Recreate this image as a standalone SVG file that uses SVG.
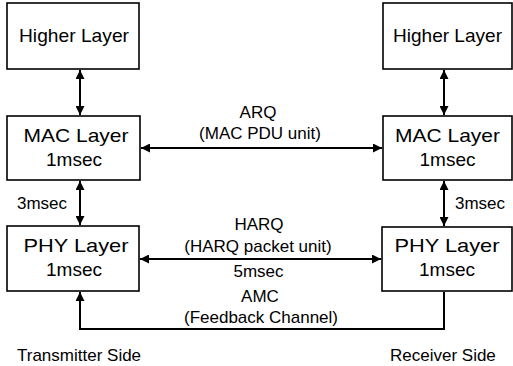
<svg xmlns="http://www.w3.org/2000/svg" width="513" height="366" viewBox="0 0 513 366">
  <style>
    .box { fill: #ffffff; stroke: #000000; stroke-width: 1.6; }
    .lbl { font-family: "Liberation Sans", Arial, sans-serif; font-size: 19px; fill: #000; text-anchor: middle; }
    .txt { font-family: "Liberation Sans", Arial, sans-serif; font-size: 17px; fill: #000; text-anchor: middle; }
    .side { font-family: "Liberation Sans", Arial, sans-serif; font-size: 17px; fill: #000; }
    .conn { fill: none; stroke: #000000; stroke-width: 2; }
  </style>
  <defs>
    <marker id="ah" viewBox="0 0 10 10" refX="10" refY="5" markerWidth="10" markerHeight="9" markerUnits="userSpaceOnUse" orient="auto-start-reverse">
      <path d="M0,0 L10,5 L0,10 z" fill="#000"/>
    </marker>
  </defs>
  <rect width="513" height="366" fill="#ffffff"/>

  <g id="tx-higher">
    <rect class="box" x="7" y="3" width="132" height="66"/>
    <text class="lbl" x="74" y="42" textLength="110" lengthAdjust="spacingAndGlyphs">Higher Layer</text>
  </g>
  <g id="tx-mac">
    <rect class="box" x="7" y="116" width="133" height="64"/>
    <text class="lbl" x="76" y="142" textLength="105" lengthAdjust="spacingAndGlyphs">MAC Layer</text>
    <text class="lbl" x="74" y="166">1msec</text>
  </g>
  <g id="tx-phy">
    <rect class="box" x="7" y="226" width="132" height="65"/>
    <text class="lbl" x="76" y="252" textLength="105" lengthAdjust="spacingAndGlyphs">PHY Layer</text>
    <text class="lbl" x="74" y="276">1msec</text>
  </g>
  <g id="rx-higher">
    <rect class="box" x="383" y="3" width="129" height="66"/>
    <text class="lbl" x="447.5" y="42" textLength="109" lengthAdjust="spacingAndGlyphs">Higher Layer</text>
  </g>
  <g id="rx-mac">
    <rect class="box" x="383" y="116" width="129" height="64"/>
    <text class="lbl" x="447.5" y="142" textLength="105" lengthAdjust="spacingAndGlyphs">MAC Layer</text>
    <text class="lbl" x="447.5" y="166">1msec</text>
  </g>
  <g id="rx-phy">
    <rect class="box" x="382" y="227" width="130" height="64"/>
    <text class="lbl" x="447" y="252" textLength="105" lengthAdjust="spacingAndGlyphs">PHY Layer</text>
    <text class="lbl" x="447" y="276">1msec</text>
  </g>

  <g id="connectors">
    <line class="conn" x1="80" y1="70" x2="80" y2="115" marker-start="url(#ah)" marker-end="url(#ah)"/>
    <line class="conn" x1="80" y1="181" x2="80" y2="225" marker-start="url(#ah)" marker-end="url(#ah)"/>
    <line class="conn" x1="444" y1="70" x2="444" y2="115" marker-start="url(#ah)" marker-end="url(#ah)"/>
    <line class="conn" x1="444" y1="181" x2="444" y2="226" marker-start="url(#ah)" marker-end="url(#ah)"/>
    <line class="conn" x1="141" y1="148" x2="382" y2="148" marker-start="url(#ah)" marker-end="url(#ah)"/>
    <line class="conn" x1="140" y1="259" x2="381" y2="259" marker-start="url(#ah)" marker-end="url(#ah)"/>
    <path class="conn" d="M444,292 V329 H80 V292" marker-end="url(#ah)"/>
  </g>

  <g id="labels">
    <text class="side" x="17" y="209">3msec</text>
    <text class="side" x="455" y="209">3msec</text>
    <text class="txt" x="258" y="118">ARQ</text>
    <text class="txt" x="260" y="139">(MAC PDU unit)</text>
    <text class="txt" x="259" y="230">HARQ</text>
    <text class="txt" x="258" y="252">(HARQ packet unit)</text>
    <text class="txt" x="258.5" y="277">5msec</text>
    <text class="txt" x="260" y="302">AMC</text>
    <text class="txt" x="261" y="323">(Feedback Channel)</text>
    <text class="side" x="17" y="361">Transmitter Side</text>
    <text class="side" x="390" y="361">Receiver Side</text>
  </g>
</svg>
